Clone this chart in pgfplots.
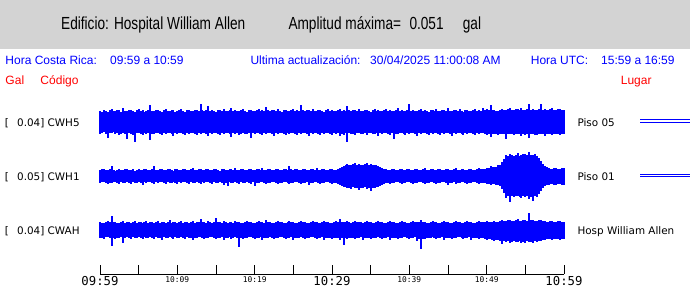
\documentclass[border=0pt]{standalone}
\usepackage{fontspec}
\setmainfont{Liberation Sans}
\newfontfamily\dejavu{DejaVu Sans}
\newfontfamily\dejavumono{DejaVu Sans Mono}
\usepackage{graphicx}
\usepackage{pgfplots}
\usepackage{pgfplotstable}
\pgfplotsset{compat=1.18}
\definecolor{hdr}{RGB}{211,211,211}
\definecolor{tblue}{RGB}{0,0,255}
\definecolor{tred}{RGB}{255,0,0}
\newcommand\hdrfont{\fontsize{17.5bp}{17.5bp}\selectfont}
\newcommand\infofont{\fontsize{12bp}{12bp}\selectfont}
\newcommand\labfont{\dejavu\fontsize{10.4bp}{10.4bp}\selectfont}
\newcommand\tbig{\dejavumono\fontsize{12.3bp}{12.3bp}\selectfont}
\newcommand\tsmall{\dejavumono\fontsize{7.9bp}{7.9bp}\selectfont}
% t (minutes after 09:59), upper/lower envelope (px) of CWH5 (a), CWH1 (b), CWAH (c)
\pgfplotstableread{
t ua la ub lb uc lc
0 11 12 6 7 8 8
0.25 10 11 7 6 7 8
0.5 12 10 7 6 7 9
0.75 11 12 6 7 8 7
1 10 16 6 8 9 7
1.25 12 11 7 7 8 8
1.5 13 11 10 7 14 16
1.75 11 10 6 6 8 8
2 11 12 5 6 8 9
2.25 12 11 6 7 7 8
2.5 12 13 7 8 7 8
2.75 10 12 6 6 8 7
3 14 11 6 7 9 13
3.25 11 12 7 7 7 8
3.5 11 17 7 6 8 7
3.75 12 11 6 7 8 8
4 12 12 6 8 7 9
4.25 11 13 7 6 8 7
4.5 10 20 5 7 9 8
4.75 12 11 6 7 7 8
5 13 11 7 6 8 7
5.25 11 12 6 7 8 8
5.5 12 13 6 9 7 9
5.75 10 11 7 6 8 7
6 11 12 7 7 9 8
6.25 12 11 6 6 7 8
6.5 17 18 6 6 8 7
6.75 11 12 7 7 8 8
7 11 12 10 8 7 9
7.25 12 11 6 6 8 7
7.5 12 11 6 7 9 8
7.75 11 12 7 6 7 8
8 10 13 7 6 8 10
8.25 12 11 6 7 8 7
8.5 13 12 6 8 7 8
8.75 11 11 7 6 8 8
9 11 11 7 7 10 7
9.25 12 12 6 7 7 8
9.5 12 14 5 6 8 9
9.75 10 11 7 7 8 7
10 11 12 7 8 7 8
10.25 12 11 6 6 8 8
10.5 13 11 6 7 9 7
10.75 11 12 7 6 7 8
11 10 13 7 6 8 9
11.25 12 11 6 7 8 7
11.5 12 12 6 8 7 8
11.75 11 11 7 6 8 8
12 11 11 8 7 9 10
12.25 12 12 6 7 7 8
12.5 12 13 6 6 8 8
12.75 11 11 7 7 8 7
13 18 12 7 8 11 7
13.25 12 11 6 6 8 8
13.5 11 11 6 7 8 9
13.75 12 12 7 6 7 8
14 16 14 7 6 9 8
14.25 11 11 6 7 8 7
14.5 12 12 6 8 7 7
14.75 11 11 7 6 8 8
15 10 11 7 7 12 9
15.25 12 12 6 7 8 8
15.5 12 13 5 6 8 8
15.75 11 11 7 7 7 7
16 13 12 7 9 9 10
16.25 11 11 6 7 8 8
16.5 11 11 6 10 7 8
16.75 12 12 7 6 8 7
17 14 15 7 7 8 9
17.25 11 11 6 7 7 8
17.5 12 12 8 6 9 7
17.75 11 11 6 7 8 8
18 11 13 6 8 8 17
18.25 12 12 7 6 7 8
18.5 13 11 7 7 7 9
18.75 11 12 6 7 8 8
19 10 12 6 6 9 8
19.25 12 11 7 7 8 7
19.5 12 16 7 8 8 7
19.75 11 11 6 6 7 8
20 11 12 6 10 7 9
20.25 12 11 7 7 8 8
20.5 13 11 7 7 9 8
20.75 11 12 6 6 8 7
21 12 13 8 6 8 10
21.25 11 11 6 7 7 8
21.5 15 12 6 8 10 8
21.75 12 11 7 7 8 8
22 11 11 7 7 8 7
22.25 12 12 6 6 7 8
22.5 12 14 6 6 7 9
22.75 11 11 7 7 8 8
23 13 12 7 8 9 8
23.25 11 11 6 7 8 7
23.5 10 11 6 7 8 7
23.75 12 12 7 6 7 8
24 12 13 7 6 7 9
24.25 11 11 6 7 8 8
24.5 11 12 10 8 9 8
24.75 12 11 7 7 8 7
25 13 11 6 7 8 10
25.25 11 12 7 6 7 8
25.5 12 13 7 6 7 8
25.75 11 11 6 7 8 8
26 17 12 6 8 9 7
26.25 12 11 7 7 8 8
26.5 11 11 7 7 8 9
26.75 12 12 6 6 7 8
27 12 14 6 9 7 8
27.25 11 11 7 7 8 7
27.5 13 12 7 7 9 7
27.75 11 11 6 6 8 8
28 11 11 8 6 8 9
28.25 12 12 6 7 7 8
28.5 12 13 6 8 7 8
28.75 11 11 7 7 8 7
29 10 12 7 7 9 10
29.25 12 11 6 6 8 8
29.5 13 11 6 6 8 8
29.75 11 12 7 7 7 8
30 12 13 7 8 7 9
30.25 11 11 6 7 8 8
30.5 11 12 6 7 9 8
30.75 12 11 7 8 8 8
31 13 14 8 9 11 10
31.25 11 12 9 10 8 8
31.5 12 13 10 11 8 15
31.75 11 11 11 11 8 8
32 16 20 12 12 9 9
32.25 12 11 11 12 8 8
32.5 11 12 11 13 7 8
32.75 12 12 12 11 8 8
33 12 13 13 12 9 9
33.25 11 11 11 12 8 8
33.5 13 11 12 14 8 8
33.75 11 12 11 12 8 7
34 11 12 11 12 7 10
34.25 12 11 12 11 8 8
34.5 12 13 13 13 9 8
34.75 11 11 11 12 8 8
35 10 11 12 15 8 9
35.25 12 12 11 12 7 8
35.5 13 12 11 12 7 8
35.75 11 11 11 11 8 8
36 12 14 10 11 9 7
36.25 11 11 9 10 8 8
36.5 11 12 8 9 8 9
36.75 12 11 7 8 7 8
37 13 11 7 7 7 8
37.25 11 12 6 7 8 7
37.5 12 13 6 8 9 10
37.75 11 11 7 7 8 8
38 11 17 7 7 8 8
38.25 12 12 6 6 7 8
38.5 14 12 6 6 7 9
38.75 11 11 7 7 8 8
39 12 11 7 8 9 8
39.25 11 12 6 7 8 7
39.5 11 13 6 7 8 7
39.75 12 11 7 6 7 8
40 18 12 7 6 7 9
40.25 11 11 6 7 8 8
40.5 12 11 6 8 9 8
40.75 11 12 7 7 8 7
41 11 14 7 7 8 11
41.25 12 11 6 6 8 9
41.5 13 12 6 6 10 19
41.75 11 11 7 7 8 9
42 12 11 8 8 8 9
42.25 11 12 6 7 7 8
42.5 10 13 6 7 7 8
42.75 12 11 7 6 8 8
43 12 12 7 6 9 7
43.25 11 11 6 7 8 8
43.5 13 11 6 8 8 9
43.75 11 12 7 7 7 8
44 11 13 7 7 7 8
44.25 12 11 6 6 8 7
44.5 12 12 6 6 9 10
44.75 11 11 7 7 8 8
45 14 11 7 9 8 8
45.25 11 12 6 7 7 8
45.5 11 14 6 7 7 9
45.75 12 11 7 6 8 8
46 12 12 8 8 9 8
46.25 11 11 6 7 8 7
46.5 13 11 6 7 8 7
46.75 11 12 7 6 7 8
47 10 13 7 6 7 9
47.25 12 11 6 7 8 8
47.5 12 12 6 8 9 8
47.75 11 11 7 7 8 7
48 11 11 7 7 8 10
48.25 12 12 6 6 7 8
48.5 13 13 6 6 7 8
48.75 11 11 7 7 8 8
49 12 12 8 8 9 9
49.25 11 11 7 7 8 8
49.5 14 11 7 7 8 8
49.75 12 12 7 7 8 9
50 13 13 8 8 9 10
50.25 12 12 8 8 8 9
50.5 17 15 10 9 8 9
50.75 12 12 9 8 8 10
51 12 12 9 8 9 11
51.25 11 12 9 9 8 10
51.5 11 13 11 9 8 10
51.75 12 12 11 10 9 11
52 13 12 14 13 10 14
52.25 12 12 17 17 9 11
52.5 12 17 21 22 9 12
52.75 13 12 20 20 10 11
53 14 12 22 26 10 13
53.25 12 12 21 20 9 12
53.5 12 13 20 21 9 11
53.75 13 12 21 20 10 12
54 13 12 23 20 11 12
54.25 12 12 20 21 9 11
54.5 14 14 21 22 9 13
54.75 12 12 22 20 10 12
55 12 13 22 21 10 13
55.25 13 12 21 20 9 11
55.5 18 16 24 23 17 12
55.75 12 12 21 21 10 12
56 13 12 21 25 10 13
56.25 12 13 22 20 9 11
56.5 12 13 20 21 9 12
56.75 13 12 18 18 10 11
57 18 12 15 15 10 11
57.25 12 12 12 12 9 10
57.5 13 14 10 10 9 10
57.75 12 12 9 9 8 9
58 12 12 8 9 8 9
58.25 13 12 7 8 9 9
58.5 14 13 7 8 9 10
58.75 12 12 8 9 8 9
59 12 12 8 9 8 9
59.25 13 12 7 8 9 9
59.5 13 13 7 8 9 10
59.75 12 12 8 9 8 9
60 12 12 8 9 8 9
}\traces
\begin{document}
\begin{tikzpicture}
\begin{scope}[x=1bp,y=1bp]
\fill[white] (0,0) rectangle (690,-288);
\fill[hdr] (0,0) rectangle (690,-49);
\begin{scope}[every node/.style={inner sep=0pt, anchor=base west}]
\node at (61,-29.3) {\hdrfont\scalebox{0.78}[1]{Edificio: Hospital William Allen}};
\node at (288.3,-29.3) {\hdrfont\scalebox{0.78}[1]{Amplitud máxima=}};
\node at (409.3,-29.3) {\hdrfont\scalebox{0.78}[1]{0.051}};
\node at (462.7,-29.3) {\hdrfont\scalebox{0.78}[1]{gal}};
\node[text=tblue] at (5.3,-64.5) {\infofont Hora Costa Rica:};
\node[text=tblue] at (110,-64.5) {\infofont 09:59 a 10:59};
\node[text=tblue] at (250.3,-64.5) {\infofont Ultima actualización:};
\node[text=tblue] at (370,-64.5) {\infofont 30/04/2025 11:00:08 AM};
\node[text=tblue] at (530.7,-64.5) {\infofont Hora UTC:};
\node[text=tblue] at (601,-64.5) {\infofont 15:59 a 16:59};
\node[text=tred] at (5.3,-84) {\infofont Gal};
\node[text=tred] at (40.3,-84) {\infofont Código};
\node[text=tred] at (620.7,-84) {\infofont Lugar};
\node at (4.7,-126) {\labfont [};
\node at (17,-126) {\labfont 0.04] CWH5};
\node at (4.7,-180) {\labfont [};
\node at (17,-180) {\labfont 0.05] CWH1};
\node at (4.7,-234.3) {\labfont [};
\node at (17,-234.3) {\labfont 0.04] CWAH};
\node at (577.3,-126) {\labfont Piso 05};
\node at (577.3,-180) {\labfont Piso 01};
\node at (577.3,-234.3) {\labfont Hosp William Allen};
\end{scope}
\end{scope}
\begin{axis}[
  at={(100bp,-274bp)}, anchor=south west,
  width=464bp, height=179bp, scale only axis,
  xmin=0, xmax=60, ymin=-274, ymax=-95,
  clip=false,
  axis x line=bottom, axis y line=none,
  x axis line style={-, line width=1bp, black},
  xtick={0,10,...,60}, minor xtick={5,15,...,55},
  tick align=inside,
  major tick length=9bp, minor tick length=9bp,
  every tick/.style={black, line width=1bp},
  xticklabels={{\tbig 09:59},{\tsmall 10:09},{\tsmall 10:19},{\tbig 10:29},{\tsmall 10:39},{\tsmall 10:49},{\tbig 10:59}},
  xticklabel style={inner sep=0pt, anchor=north, yshift=-2bp},
  trace/.style={draw=none, mark=none, forget plot,
    error bars/.cd, y dir=both, y explicit, error mark=none,
    error bar style={draw=tblue, line width=1.95bp, line cap=butt}},
]
\addplot[trace] table[x=t, y expr=-122, y error plus=ua, y error minus=la] {\traces};
\addplot[trace] table[x=t, y expr=-176, y error plus=ub, y error minus=lb] {\traces};
\addplot[trace] table[x=t, y expr=-230, y error plus=uc, y error minus=lc] {\traces};
\addplot[tblue, line width=1bp, forget plot] coordinates {(69.83,-119.5) (76.3,-119.5)};
\addplot[tblue, line width=1bp, forget plot] coordinates {(69.83,-122) (76.3,-122)};
\addplot[tblue, line width=1bp, forget plot] coordinates {(69.83,-174) (76.3,-174)};
\addplot[tblue, line width=1bp, forget plot] coordinates {(69.83,-176.5) (76.3,-176.5)};
\end{axis}
\pgfresetboundingbox
\useasboundingbox (0,0) rectangle (690bp,-288bp);
\end{tikzpicture}
\end{document}
